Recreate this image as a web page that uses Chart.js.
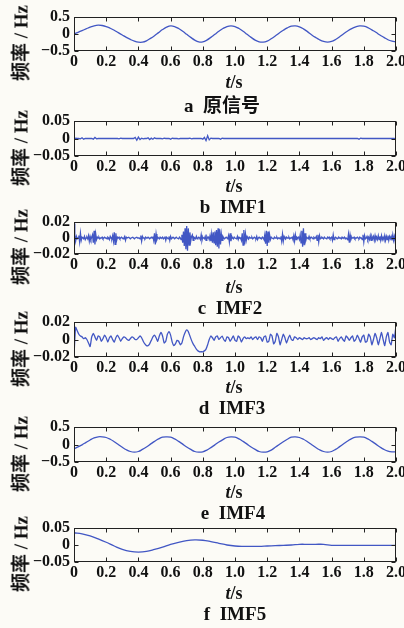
<!DOCTYPE html>
<html>
<head>
<meta charset="utf-8">
<script src="https://cdn.jsdelivr.net/npm/chart.js"></script>
<style>
  body { margin:0; width:404px; height:628px; position:relative; overflow:hidden;
         background:#fcfbf6; color:#111;
         font-family:"Liberation Serif","Noto Sans CJK SC",serif; font-weight:bold; }
  canvas { position:absolute; left:0; }
  .ylab { position:absolute; left:19px; transform:translate(-50%,-50%) rotate(-90deg);
          white-space:nowrap; font-size:19px; }
  .xlab { position:absolute; transform:translate(-50%,-50%); font-size:18px; white-space:nowrap; }
  .cap  { position:absolute; transform:translate(-50%,-50%); font-size:19px; white-space:nowrap; }
</style>
</head>
<body>
<script>
// sample times (s)
const tSmooth = [], tImf5 = [], tImf13 = [], tImf2 = [];
for (let i = 0; i <= 80; i++) tSmooth.push(i * 0.025);
for (let i = 0; i <= 40; i++) tImf5.push(i * 0.05);
for (let i = 0; i <= 200; i++) tImf13.push(i * 0.01);
for (let i = 0; i <= 400; i++) tImf2.push(i * 0.005);

// a 原信号 (Hz)
const original = [
  0.00, 0.05, 0.10, 0.15, 0.20, 0.24, 0.26, 0.25, 0.22, 0.17,
  0.11, 0.04, -0.03, -0.10, -0.16, -0.21, -0.24, -0.24, -0.20, -0.13,
  -0.05, 0.04, 0.13, 0.20, 0.24, 0.22, 0.16, 0.08, -0.01, -0.10,
  -0.18, -0.23, -0.23, -0.18, -0.10, -0.01, 0.08, 0.16, 0.22, 0.24,
  0.22, 0.16, 0.08, -0.01, -0.10, -0.18, -0.23, -0.24, -0.21, -0.14,
  -0.06, 0.03, 0.11, 0.18, 0.23, 0.24, 0.21, 0.15, 0.07, -0.02,
  -0.10, -0.17, -0.22, -0.24, -0.22, -0.16, -0.08, 0.01, 0.09, 0.16,
  0.21, 0.24, 0.23, 0.19, 0.12, 0.05, -0.03, -0.10, -0.17, -0.21,
  -0.23
];

// b IMF1
const imf1 = [
  -0.004, 0.001, 0, 0, -0.001, 0.002, -0.002, 0, 0, 0,
  0, 0, -0.002, 0.003, -0.001, 0, 0, 0, 0, 0,
  0, 0, 0, 0, 0, 0, 0, 0, -0.001, 0.001,
  0, 0, 0, 0, 0, 0, 0, 0, 0.003, -0.005,
  0.004, -0.003, 0.001, -0.001, 0, 0, 0.002, -0.003, 0.001, -0.002,
  0.002, 0, 0, 0, 0, -0.001, 0.001, 0, 0, 0,
  -0.002, 0.001, 0, 0, 0, -0.001, 0, 0, 0, 0,
  0, 0, 0.001, -0.001, 0, 0, 0, 0, 0, 0,
  -0.002, 0.003, -0.006, 0.008, -0.004, 0.001, 0, 0, 0, 0,
  0, -0.002, 0.001, 0, 0, 0, 0, 0, 0, 0,
  0, 0, 0, 0, 0, 0, 0, 0, 0, 0,
  0, 0, 0, 0, 0, 0, 0, 0, 0, 0,
  0, 0, 0, 0, 0, 0, 0, 0, 0, 0,
  0, 0, 0, 0, 0, 0, 0, 0, 0, 0,
  0, 0, 0, 0, 0, 0, 0, 0, 0, 0,
  0, 0, 0, 0, 0, 0, 0, 0, 0, 0,
  0, 0, 0, 0, 0, 0, 0, 0, 0, 0,
  0, 0, 0, 0, 0, 0, 0, -0.002, 0.001, 0,
  0, 0, 0, 0, 0, 0, 0, 0, 0, 0,
  0, 0, 0, 0, 0, 0, 0, 0, 0, 0,
  -0.003
];

// c IMF2
const imf2 = [
  0.018, 0.004, -0.004, 0.002, -0.001, 0, 0.003, -0.005, 0.006, -0.003, 0.001, 0, -0.001, 0.002, -0.002, 0, 0.001, -0.001, 0.003, -0.004,
  0.002, -0.002, 0.001, 0.004, -0.006, 0.009, -0.008, 0.005, -0.002, 0.001, 0, 0.001, -0.001, 0, 0, 0.001, -0.001, 0, 0.001, 0,
  0, -0.001, 0.001, 0, -0.002, 0.002, 0, -0.001, 0.003, -0.004, 0.007, -0.008, 0.006, -0.003, 0.001, 0, 0.001, -0.001, 0, 0.001,
  0, -0.001, 0, 0.002, -0.003, 0.001, 0, 0, 0.001, 0, -0.001, 0, 0, 0.001, 0, -0.001, 0, 0, 0.001, 0,
  0, 0, -0.001, 0.003, -0.004, 0.002, 0, 0, -0.001, 0.001, 0, 0, 0.001, 0, -0.001, 0, 0.001, 0, 0.002, -0.003,
  0.006, -0.008, 0.005, -0.002, 0.001, 0, -0.001, 0.001, 0, 0, 0.001, -0.001, 0, 0.002, -0.003, 0.001, 0, -0.001, 0.002, -0.003,
  0.002, -0.001, 0, 0.001, 0, -0.001, 0, 0.001, 0, 0, -0.001, 0.001, 0, -0.002, 0.004, -0.006, 0.008, -0.010, 0.012, -0.014,
  0.015, -0.016, 0.012, -0.009, 0.007, -0.004, 0.002, 0.004, -0.003, 0.001, 0, -0.001, 0.002, -0.001, 0, 0.001, 0, -0.002, 0.004, -0.003,
  0.001, 0, -0.001, 0.002, -0.003, 0.002, 0, 0.001, -0.002, 0.003, -0.004, 0.005, -0.006, 0.007, -0.006, 0.008, -0.009, 0.010, -0.011, 0.012,
  -0.013, 0.011, -0.008, 0.005, -0.003, 0.002, 0, -0.001, 0, 0.001, 0, -0.001, 0.003, -0.005, 0.006, -0.004, 0.002, 0, -0.001, 0.001,
  0, 0, -0.001, 0.002, -0.002, 0.001, 0, 0, -0.003, 0.006, -0.009, 0.010, -0.008, 0.005, -0.003, 0.002, 0, -0.001, 0.001, 0,
  0, 0.001, -0.001, 0, 0.001, 0, -0.001, 0.002, -0.002, 0, 0.001, 0, 0, -0.001, 0.001, 0, -0.002, 0.004, -0.007, 0.009,
  -0.010, 0.008, -0.006, 0.004, -0.002, 0.001, 0, 0, -0.001, 0.001, 0, 0, 0.001, -0.001, 0, 0, -0.001, 0.002, -0.004, 0.005,
  -0.004, 0.002, 0, -0.001, 0.001, 0, 0, 0.001, -0.001, 0, 0, 0.001, -0.002, 0.003, -0.004, 0.004, -0.002, 0.001, 0, 0.001,
  -0.002, 0.004, -0.006, 0.009, -0.011, 0.012, -0.009, 0.006, -0.003, 0.001, 0, -0.001, 0.002, -0.001, 0, 0.001, 0, -0.001, 0.001, 0,
  0, 0.002, -0.003, 0.004, -0.005, 0.003, -0.001, 0, 0.001, 0, -0.001, 0.001, 0, 0, -0.001, 0.001, 0, 0.001, -0.001, 0,
  0.001, -0.003, 0.004, -0.002, 0, 0.001, 0, -0.001, 0, 0.001, 0, 0, -0.001, 0.001, 0, 0, 0.001, -0.001, 0, 0,
  -0.002, 0.005, -0.006, 0.004, -0.002, 0.001, 0, 0, 0.001, -0.001, 0, 0, 0.001, 0, -0.001, 0.001, 0, 0, -0.002, 0.004,
  -0.005, 0.003, -0.001, 0, 0.002, -0.002, 0.001, -0.002, 0.003, -0.003, 0.002, -0.001, 0.002, -0.003, 0.003, -0.002, 0.001, -0.002, 0.003, -0.002,
  0.002, -0.003, 0.003, -0.002, 0.001, -0.002, 0.003, -0.003, 0.002, -0.002, 0.003, -0.003, 0.002, -0.001, 0.002, -0.003, 0.004, -0.003, 0.002, -0.004,
  -0.012
];

// d IMF3
const imf3 = [
  -0.018, 0.014, 0.010, 0.006, 0.004, 0.003, 0.001, 0.002, 0.000, -0.004,
  -0.008, 0.003, 0.007, 0.003, -0.001, 0.004, 0.003, -0.002, 0.001, 0.005,
  0.002, -0.003, 0.002, 0.004, 0.000, -0.003, 0.002, 0.005, 0.002, -0.002,
  0.001, 0.003, 0.002, 0.000, -0.001, 0.001, 0.003, 0.002, 0.000, 0.000,
  0.002, 0.004, 0.002, -0.002, -0.005, -0.007, -0.007, -0.005, -0.001, 0.003,
  0.005, 0.002, -0.002, 0.004, 0.008, 0.004, -0.004, -0.002, 0.006, 0.009,
  0.005, -0.003, -0.007, -0.005, -0.001, -0.002, -0.006, -0.004, 0.003, 0.008,
  0.011, 0.009, 0.004, -0.001, -0.005, -0.008, -0.011, -0.013, -0.014, -0.014,
  -0.014, -0.013, -0.011, -0.006, 0.000, 0.004, 0.002, -0.001, 0.003, 0.004,
  0.000, 0.002, 0.004, 0.000, -0.002, 0.003, 0.002, -0.002, 0.001, 0.004,
  -0.001, -0.002, 0.004, 0.002, -0.003, 0.001, 0.003, 0.001, 0.002, 0.001,
  0.003, 0.000, 0.002, 0.003, 0.000, 0.003, 0.002, -0.002, 0.003, 0.004,
  -0.003, -0.002, 0.006, 0.004, -0.005, -0.002, 0.007, 0.003, -0.006, 0.000,
  0.006, 0.002, -0.004, 0.001, 0.005, 0.000, -0.001, 0.003, 0.002, 0.000,
  0.002, 0.001, 0.000, 0.002, 0.001, 0.001, 0.002, 0.000, 0.001, 0.002,
  0.001, 0.000, 0.002, 0.001, 0.003, -0.001, 0.001, 0.002, 0.000, 0.002,
  0.001, 0.000, 0.002, 0.003, -0.002, 0.001, 0.003, 0.000, -0.002, 0.004,
  0.002, -0.001, 0.002, 0.004, -0.002, 0.000, 0.005, 0.001, -0.003, 0.003,
  0.005, -0.003, -0.002, 0.006, 0.003, -0.006, 0.000, 0.007, 0.002, -0.006,
  0.001, 0.008, 0.000, -0.007, 0.003, 0.008, -0.003, -0.006, 0.006, 0.002,
  0.016
];

// e IMF4
const imf4 = [
  -0.12, -0.07, -0.01, 0.06, 0.13, 0.19, 0.22, 0.22, 0.20, 0.15,
  0.08, 0.00, -0.08, -0.15, -0.20, -0.22, -0.20, -0.14, -0.07, 0.01,
  0.09, 0.16, 0.21, 0.22, 0.21, 0.16, 0.09, 0.01, -0.07, -0.14,
  -0.20, -0.22, -0.21, -0.16, -0.09, -0.01, 0.07, 0.14, 0.20, 0.22,
  0.21, 0.16, 0.09, 0.01, -0.07, -0.14, -0.20, -0.22, -0.21, -0.16,
  -0.08, 0.00, 0.08, 0.15, 0.21, 0.22, 0.20, 0.15, 0.08, 0.00,
  -0.08, -0.15, -0.20, -0.22, -0.20, -0.14, -0.06, 0.02, 0.10, 0.17,
  0.21, 0.22, 0.21, 0.16, 0.09, 0.01, -0.07, -0.14, -0.19, -0.21,
  -0.21
];

// f IMF5
const imf5 = [
  0.036, 0.033, 0.027, 0.018, 0.008, -0.003, -0.013, -0.019, -0.021, -0.019,
  -0.013, -0.006, 0.002, 0.008, 0.013, 0.015, 0.014, 0.010, 0.005, 0.000,
  -0.003, -0.004, -0.004, -0.004, -0.003, -0.002, -0.001, 0.000, 0.002, 0.002,
  0.002, 0.002, -0.001, -0.001, -0.001, -0.001, -0.001, -0.001, -0.001, -0.001,
  -0.001
];

const xTicks = [0, 2, 0.2];

const panels = [
  { top: 17,  h: 34, t: tSmooth, v: original, lim: 0.5,  dec: 1, tension: 0.4,  cap: 'a  原信号', capX: 222 },
  { top: 121, h: 35, t: tImf13,  v: imf1,     lim: 0.05, dec: 2, tension: 0,    cap: 'b  IMF1', capX: 233 },
  { top: 222, h: 32, t: tImf2,   v: imf2,     lim: 0.02, dec: 2, tension: 0,    cap: 'c  IMF2', capX: 230 },
  { top: 322, h: 35, t: tImf13,  v: imf3,     lim: 0.02, dec: 2, tension: 0.15, cap: 'd  IMF3', capX: 232 },
  { top: 427, h: 35, t: tSmooth, v: imf4,     lim: 0.5,  dec: 1, tension: 0.4,  cap: 'e  IMF4', capX: 233 },
  { top: 528, h: 34, t: tImf5,   v: imf5,     lim: 0.05, dec: 2, tension: 0.4,  cap: 'f  IMF5', capX: 235 }
];

const tickFont = { family: 'Liberation Serif', size: 16, weight: 'bold' };

// box round the plot with inward tick marks
const frame = {
  id: 'frame',
  afterDraw(c) {
    const { ctx, chartArea: a, scales: { x, y } } = c;
    const L = Math.round(a.left) + 0.5, R = Math.round(a.right) - 0.5;
    const T = Math.round(a.top) + 0.5, B = Math.round(a.bottom) - 0.5;
    ctx.save();
    ctx.strokeStyle = '#222';
    ctx.lineWidth = 1;
    ctx.strokeRect(L, T, R - L, B - T);
    ctx.beginPath();
    x.ticks.forEach(tk => {
      const px = Math.round(x.getPixelForValue(tk.value)) + 0.5;
      ctx.moveTo(px, B); ctx.lineTo(px, B - 4);
      ctx.moveTo(px, T); ctx.lineTo(px, T + 4);
    });
    y.ticks.forEach(tk => {
      const py = Math.round(y.getPixelForValue(tk.value)) + 0.5;
      ctx.moveTo(L, py); ctx.lineTo(L + 4, py);
      ctx.moveTo(R, py); ctx.lineTo(R - 4, py);
    });
    ctx.stroke();
    ctx.restore();
  }
};

function addText(cls, html, x, y) {
  const d = document.createElement('div');
  d.className = cls;
  d.innerHTML = html;
  if (x !== null) d.style.left = x + 'px';
  d.style.top = y + 'px';
  document.body.appendChild(d);
}

panels.forEach(p => {
  const cv = document.createElement('canvas');
  const H = p.h + 10 + 22;
  cv.width = 404; cv.height = H;
  cv.style.top = (p.top - 10) + 'px';
  document.body.appendChild(cv);

  new Chart(cv, {
    type: 'line',
    data: {
      datasets: [{
        data: p.t.map((t, i) => ({ x: t, y: p.v[i] })),
        borderColor: '#4257c4',
        borderWidth: 1.3,
        pointRadius: 0,
        tension: p.tension,
        fill: false
      }]
    },
    options: {
      responsive: false,
      animation: false,
      layout: { padding: { top: 10, right: 8, left: 0, bottom: 0 } },
      plugins: { legend: { display: false }, tooltip: { enabled: false } },
      scales: {
        x: {
          type: 'linear', min: xTicks[0], max: xTicks[1],
          grid: { display: false, drawTicks: false }, border: { display: false },
          ticks: {
            stepSize: xTicks[2], autoSkip: false, maxRotation: 0, padding: 1,
            color: '#111', font: tickFont,
            callback: v => Math.abs(v) < 1e-9 ? '0' : v.toFixed(1)
          },
          afterFit: s => { s.height = 22; s.paddingLeft = 0; s.paddingRight = 0; }
        },
        y: {
          min: -p.lim, max: p.lim,
          grid: { display: false, drawTicks: false }, border: { display: false },
          ticks: {
            stepSize: p.lim, autoSkip: false, padding: 4, color: '#111', font: tickFont,
            callback: v => Math.abs(v) < 1e-9 ? '0' : (v < 0 ? '\u2212' : '') + Math.abs(v).toFixed(p.dec)
          },
          afterFit: s => { s.width = 74; s.paddingTop = 0; s.paddingBottom = 0; }
        }
      }
    },
    plugins: [frame]
  });

  addText('ylab', '频率 / Hz', null, p.top + p.h / 2 + 9);
  addText('xlab', '<i>t</i>/s', 234, p.top + 65);
  addText('cap', p.cap.replace('  ', '&nbsp;&nbsp;'), p.capX, p.top + 86);
});
</script>
</body>
</html>
